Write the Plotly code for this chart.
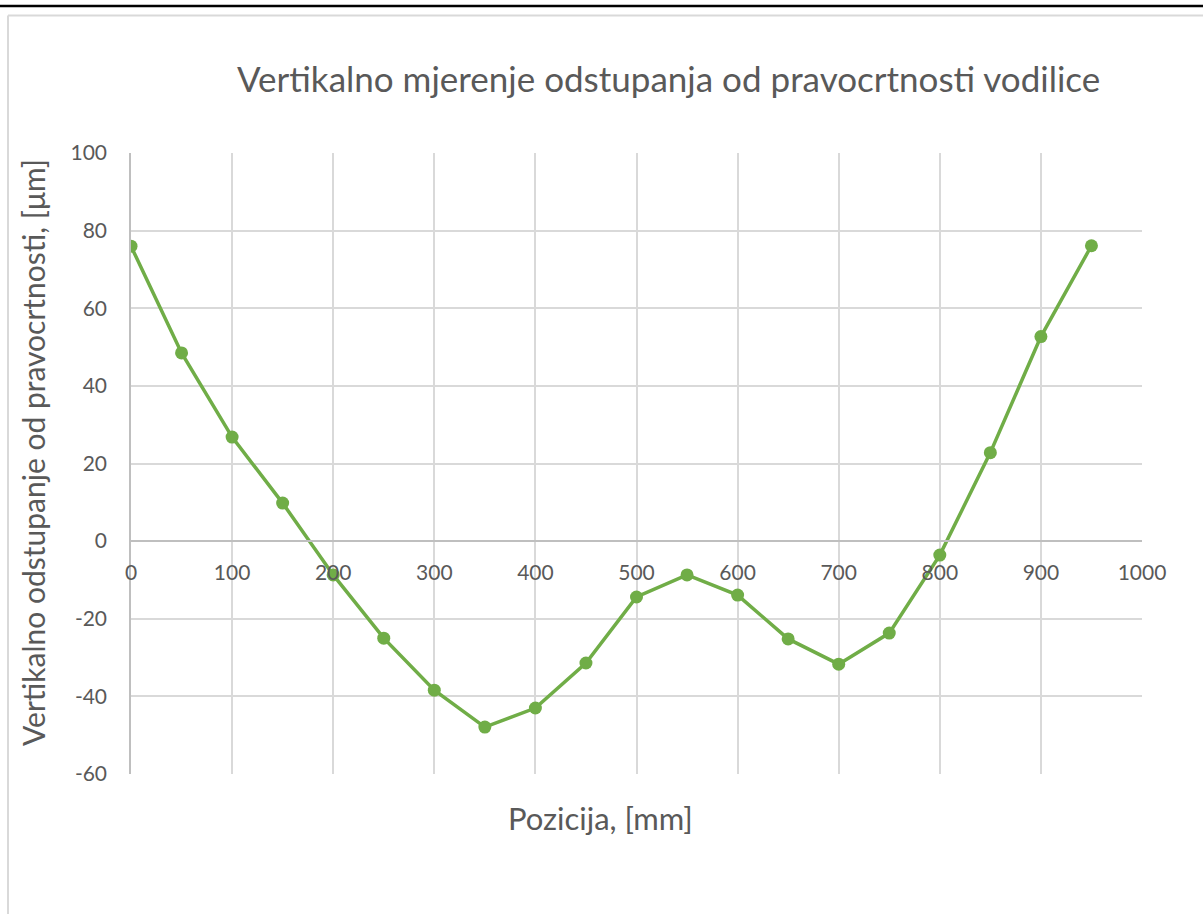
import plotly.graph_objects as go

# Data
positions = [0, 50, 100, 150, 200, 250, 300, 350, 400, 450, 500, 550, 600, 650, 700, 750, 800, 850, 900, 950]
deviations = [76.0, 48.5, 26.8, 9.8, -8.7, -25.0, -38.4, -47.9, -43.0, -31.4, -14.4, -8.7, -13.9, -25.2, -31.7, -23.7, -3.6, 22.8, 52.7, 76.1]
x_ticks = [0, 100, 200, 300, 400, 500, 600, 700, 800, 900, 1000]
y_ticks = [-60, -40, -20, 0, 20, 40, 60, 80, 100]

title_text = "Vertikalno mjerenje odstupanja od pravocrtnosti vodilice"
x_title = "Pozicija, [mm]"
y_title = "Vertikalno odstupanje od pravocrtnosti, [μm]"

W, H = 1203, 914
L, R, T, B = 131, 1142, 153, 774
FONT = "Lato"
TXT = "#595959"
GREEN = "#70AD47"
GRID = "#D9D9D9"


def px(xp):
    return (xp - L) / (R - L)


def py(yp):
    return (B - yp) / (B - T)


fig = go.Figure()
fig.add_trace(go.Scatter(
    x=positions, y=deviations, mode="lines+markers",
    line=dict(color=GREEN, width=3.5),
    marker=dict(color=GREEN, size=13),
    xaxis="x", yaxis="y", showlegend=False, hoverinfo="x+y",
))
# invisible companion trace so the zero-crossing label axis is rendered
fig.add_trace(go.Scatter(
    x=positions, y=deviations, mode="markers",
    marker=dict(opacity=0), xaxis="x2", yaxis="y",
    showlegend=False, hoverinfo="skip",
))

fig.update_layout(
    width=W, height=H,
    margin=dict(l=L, r=W - R, t=T, b=H - B),
    paper_bgcolor="white", plot_bgcolor="white",
    font=dict(family=FONT, color=TXT),
    showlegend=False,
    xaxis=dict(range=[0, 1000], showgrid=True, gridcolor=GRID, gridwidth=1.5,
               tickvals=x_ticks, showticklabels=False, zeroline=False,
               showline=False, ticks=""),
    xaxis2=dict(range=[0, 1000], overlaying="x", anchor="free", position=60 / 160,
                side="bottom",
                tickvals=x_ticks, ticktext=[str(v) for v in x_ticks],
                tickfont=dict(family=FONT, size=21, color=TXT),
                showgrid=False, zeroline=False, showline=True, linecolor="#BFBFBF",
                linewidth=1.5, ticks="outside", ticklen=13,
                tickcolor="rgba(0,0,0,0)"),
    yaxis=dict(range=[-60, 100], tickvals=y_ticks, ticktext=[str(v) for v in y_ticks],
               tickfont=dict(family=FONT, size=21, color=TXT),
               showgrid=True, gridcolor=GRID, gridwidth=1.5, zeroline=False,
               showline=True, linecolor="#BFBFBF", linewidth=1.5,
               ticks="outside", ticklen=18, tickcolor="rgba(0,0,0,0)"),
)

fig.add_annotation(text=title_text, xref="paper", yref="paper",
                   x=px(668), y=py(78), xanchor="center", yanchor="middle",
                   showarrow=False, font=dict(family=FONT, size=35, color=TXT))
fig.add_annotation(text=x_title, xref="paper", yref="paper",
                   x=px(600), y=py(818), xanchor="center", yanchor="middle",
                   showarrow=False, font=dict(family=FONT, size=31, color=TXT))
fig.add_annotation(text=y_title, xref="paper", yref="paper",
                   x=px(33), y=py(453), xanchor="center", yanchor="middle",
                   textangle=-90, showarrow=False,
                   font=dict(family=FONT, size=30, color=TXT))

# Frame lines around the chart image
fig.add_shape(type="line", xref="paper", yref="paper",
              x0=px(0), x1=px(W), y0=py(6), y1=py(6),
              line=dict(color="black", width=2.5))
fig.add_shape(type="line", xref="paper", yref="paper",
              x0=px(8), x1=px(W), y0=py(15.5), y1=py(15.5),
              line=dict(color="#D9D9D9", width=2))
fig.add_shape(type="line", xref="paper", yref="paper",
              x0=px(8), x1=px(8), y0=py(15.5), y1=py(H),
              line=dict(color="#D9D9D9", width=2))

fig.write_html("out.html", config={"displayModeBar": False},
               post_script="document.body.style.margin='0';document.body.style.overflow='hidden';")
